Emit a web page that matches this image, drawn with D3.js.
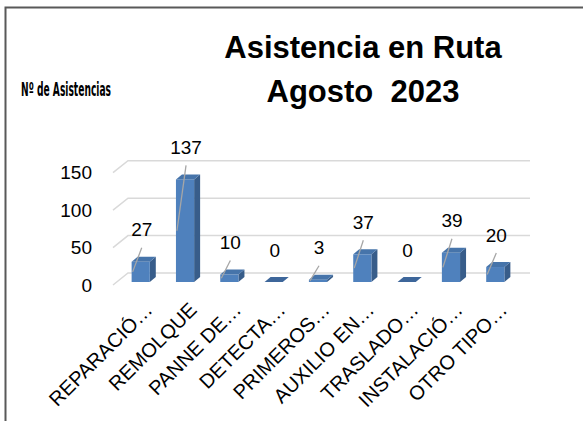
<!DOCTYPE html>
<html>
<head>
<meta charset="utf-8">
<script src="https://cdn.jsdelivr.net/npm/d3@7"></script>
<style>
  body { margin: 0; background: #fff; }
  svg { display: block; }
</style>
</head>
<body>
<div id="chart"></div>
<script>
// Data
const categories = ["REPARACIÓ…", "REMOLQUE", "PANNE DE…", "DETECTA…", "PRIMEROS…",
  "AUXILIO EN…", "TRASLADO…", "INSTALACIÓ…", "OTRO TIPO…"];
const values = [27, 137, 10, 0, 3, 37, 0, 39, 20];
const yTicks = [0, 50, 100, 150];
const titleLines = ["Asistencia en Ruta", "Agosto  2023"];
const yTitle = "Nº de Asistencias";

// Chart dimensions
const W = 583, H = 421;
const depthX = 15, depthY = 12;      // floor depth (front -> back)
const barDX = 6, barDY = 5;          // bar depth
const floorFront = 285;              // y of value 0 on the front edge
const barBase = 282;                 // y of value 0 on the bar front face

const svg = d3.select("#chart")
  .append("svg")
  .attr("width", W)
  .attr("height", H);

// Frame (top and left edges)
svg.append("path")
  .attr("d", `M5.5,${H} L5.5,7.5 L${W},7.5`)
  .attr("fill", "none")
  .attr("stroke", "#595959")
  .attr("stroke-width", 2);

// Scales
const y = d3.scaleLinear().domain([0, 150]).range([0, 112.3]);
const x = d3.scaleBand()
  .domain(categories)
  .range([117, 519])
  .paddingInner(0.59)
  .paddingOuter(0.33);

// Gridlines
const grid = svg.append("g");
yTicks.forEach(t => {
  const yf = floorFront - y(t);
  grid.append("path")
    .attr("d", `M113,${yf} L${113 + depthX},${yf - depthY} L530,${yf - depthY}`)
    .attr("fill", "none")
    .attr("stroke", "#d9d9d9")
    .attr("stroke-width", 1.5);
});

// Y tick labels
svg.append("g").selectAll("text")
  .data(yTicks)
  .enter()
  .append("text")
  .attr("x", 92)
  .attr("y", d => floorFront - y(d))
  .attr("dy", "0.35em")
  .attr("text-anchor", "end")
  .attr("font-family", "Liberation Sans, Arial, sans-serif")
  .attr("font-size", "19px")
  .attr("fill", "#000")
  .text(d => d);

// Bars
const data = categories.map((c, i) => ({ name: c, value: values[i] }));
const bw = x.bandwidth();
const bars = svg.append("g").selectAll("g")
  .data(data)
  .enter()
  .append("g");

// side face
bars.append("path")
  .attr("d", d => {
    const x0 = x(d.name) + bw, top = barBase - y(d.value);
    return `M${x0},${top} L${x0 + barDX},${top - barDY} L${x0 + barDX},${barBase - barDY} L${x0},${barBase} Z`;
  })
  .attr("fill", "#385d8a");

// front face
bars.append("rect")
  .attr("x", d => x(d.name))
  .attr("y", d => barBase - y(d.value))
  .attr("width", bw)
  .attr("height", d => y(d.value))
  .attr("fill", "#4f81bd");

// top face
bars.append("path")
  .attr("d", d => {
    const x0 = x(d.name), top = barBase - y(d.value);
    return `M${x0},${top} L${x0 + barDX},${top - barDY} L${x0 + bw + barDX},${top - barDY} L${x0 + bw},${top} Z`;
  })
  .attr("fill", d => d.value === 0 ? "#3d669a" : "#4674aa");

// Data labels + leader lines
const lblX = d => x(d.name) + bw / 2 + 1;
const lblY = d => barBase - y(d.value) - 32;

svg.append("g").selectAll("line")
  .data(data.filter(d => d.value > 0))
  .enter()
  .append("line")
  .attr("x1", d => lblX(d))
  .attr("y1", d => lblY(d) + 18)
  .attr("x2", d => x(d.name) + 1)
  .attr("y2", d => barBase - y(d.value) / 2)
  .attr("stroke", "#a6a6a6")
  .attr("stroke-width", 1.3);

svg.append("g").selectAll("text")
  .data(data)
  .enter()
  .append("text")
  .attr("x", lblX)
  .attr("y", lblY)
  .attr("dy", "0.35em")
  .attr("text-anchor", "middle")
  .attr("font-family", "Liberation Sans, Arial, sans-serif")
  .attr("font-size", "19px")
  .attr("fill", "#000")
  .text(d => d.value);

// X labels (rotated)
svg.append("g").selectAll("text")
  .data(categories)
  .enter()
  .append("text")
  .attr("transform", d => `translate(${x(d) + bw / 2 + 13},311) rotate(-45)`)
  .attr("text-anchor", "end")
  .attr("font-family", "Liberation Sans, Arial, sans-serif")
  .attr("font-size", "20px")
  .attr("fill", "#000")
  .text(d => d);

// Title
svg.append("g").selectAll("text")
  .data(titleLines)
  .enter()
  .append("text")
  .attr("x", 363)
  .attr("y", (d, i) => 58 + i * 44)
  .attr("text-anchor", "middle")
  .attr("font-family", "Liberation Sans, Arial, sans-serif")
  .attr("font-weight", "bold")
  .attr("font-size", "31px")
  .style("white-space", "pre")
  .attr("fill", "#000")
  .text(d => d);

// Y axis title
svg.append("text")
  .attr("x", 21)
  .attr("y", 96)
  .attr("font-family", "Liberation Sans Narrow, DejaVu Sans Condensed, sans-serif")
  .attr("font-size", "19px")
  .attr("font-weight", "bold")
  .attr("textLength", 90)
  .attr("lengthAdjust", "spacingAndGlyphs")
  .attr("fill", "#000")
  .text(yTitle);
</script>
</body>
</html>
